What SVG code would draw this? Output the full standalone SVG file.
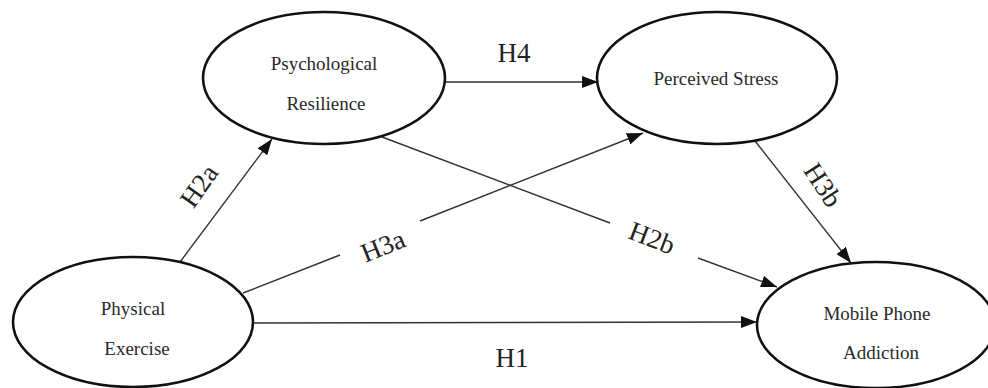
<svg xmlns="http://www.w3.org/2000/svg" width="988" height="388" viewBox="0 0 988 388" font-family="'Liberation Serif', 'DejaVu Serif', serif">
<defs>
<style>
.node ellipse{fill:#fff;stroke:#111;stroke-width:2.6}
.node text{font-family:'Liberation Serif','DejaVu Serif',serif;font-size:19px;fill:#2a2a2a;text-anchor:middle}
.edge{stroke:#333;stroke-width:1.4;fill:none}
.lbl{font-family:'Liberation Serif','DejaVu Serif',serif;font-size:27px;fill:#222;text-anchor:middle;dominant-baseline:central}
</style>
<marker id="ah" markerUnits="userSpaceOnUse" markerWidth="17" markerHeight="12" refX="16" refY="6" orient="auto">
<path d="M0,0 L16,6 L0,12 z" fill="#111"/>
</marker>
</defs>
<rect width="988" height="388" fill="#fff"/>
<g id="connectors">
<line class="edge" x1="445" y1="82" x2="598" y2="82" marker-end="url(#ah)"/>
<line class="edge" x1="180" y1="262" x2="272" y2="139" marker-end="url(#ah)"/>
<line class="edge" x1="243" y1="293" x2="340" y2="255"/>
<line class="edge" x1="420" y1="221" x2="643" y2="133" marker-end="url(#ah)"/>
<line class="edge" x1="382" y1="137" x2="610" y2="223"/>
<line class="edge" x1="698" y1="258" x2="777" y2="287" marker-end="url(#ah)"/>
<line class="edge" x1="755" y1="141" x2="851" y2="263" marker-end="url(#ah)"/>
<line class="edge" x1="253" y1="323" x2="757" y2="322" marker-end="url(#ah)"/>
<text class="lbl" x="514" y="53">H4</text>
<text class="lbl" x="512" y="358">H1</text>
<text class="lbl" transform="translate(199,186) rotate(-55)">H2a</text>
<text class="lbl" transform="translate(383,246) rotate(-22)">H3a</text>
<text class="lbl" transform="translate(652,238) rotate(21)">H2b</text>
<text class="lbl" transform="translate(823,185) rotate(57)">H3b</text>
</g>
<g id="psychological-resilience" class="node">
<ellipse cx="324" cy="78" rx="121" ry="66"/>
<text x="324" y="70">Psychological</text>
<text x="326" y="110">Resilience</text>
</g>
<g id="perceived-stress" class="node">
<ellipse cx="717" cy="78" rx="120" ry="66"/>
<text x="716" y="85">Perceived Stress</text>
</g>
<g id="physical-exercise" class="node">
<ellipse cx="133" cy="322" rx="120" ry="65"/>
<text x="133" y="315">Physical</text>
<text x="137" y="355">Exercise</text>
</g>
<g id="mobile-phone-addiction" class="node">
<ellipse cx="876" cy="325" rx="119" ry="63"/>
<text x="877" y="320">Mobile Phone</text>
<text x="881" y="359">Addiction</text>
</g>
</svg>
